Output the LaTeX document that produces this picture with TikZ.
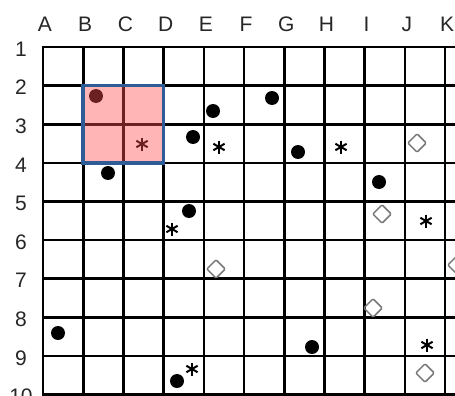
\documentclass[tikz,border=0pt]{standalone}
\usepackage{fontspec}
\setmainfont{Liberation Sans}
\usetikzlibrary{shapes.geometric}
\definecolor{overlaypink}{RGB}{255,80,80}
\definecolor{boxblue}{RGB}{46,92,150}
\definecolor{hollowgray}{RGB}{120,120,120}
\begin{document}
\begin{tikzpicture}[x=1pt,y=-1pt,
  gridline/.style={line width=2.6pt, black, line cap=rect},
  lbl/.style={font=\fontsize{21}{21}\selectfont, inner sep=0pt, anchor=center, text=black!85},
  dotmark/.style={circle, fill=black, minimum size=14pt, inner sep=0pt},
  hollow/.style={diamond, draw=hollowgray, line width=1.5pt, minimum width=19pt, minimum height=19pt, inner sep=0pt, rounded corners=1pt},
  astmark/.style={minimum size=13pt, inner sep=0pt,
    path picture={
      \draw[line width=2pt, black] (path picture bounding box.north) -- (path picture bounding box.south);
      \draw[line width=2pt, black] (path picture bounding box.center) ++(30:6.5pt) -- ++(210:13pt);
      \draw[line width=2pt, black] (path picture bounding box.center) ++(150:6.5pt) -- ++(330:13pt);
    }},
  overlay box/.style={fill=overlaypink, fill opacity=0.42},
  border box/.style={draw=boxblue, line width=3.6pt}
]
\useasboundingbox (0,0) rectangle (455,396);
\clip (0,0) rectangle (455,396);
\fill[white] (0,0) rectangle (455,396);

% grid
\foreach \i in {0,...,10}
  \draw[gridline] ({43+40.2*\i},47) -- ({43+40.2*\i},402);
\foreach \j in {0,...,9}
  \draw[gridline] (43,{47+38.6*\j}) -- (462,{47+38.6*\j});

% column labels
\foreach \c [count=\i from 0] in {A,B,C,D,E,F,G,H,I,J,K}
  \node[lbl] (col\c) at ({45+40.2*\i},24) {\c};
% row labels
\foreach \r [count=\j from 0] in {1,...,10}
  \node[lbl] (row\r) at (21,{49+38.6*\j}) {\r};

% filled markers
\node[dotmark] (d1) at (96,96) {};
\node[dotmark] (d2) at (213,111) {};
\node[dotmark] (d3) at (193,137) {};
\node[dotmark] (d4) at (108,173) {};
\node[dotmark] (d5) at (272,98) {};
\node[dotmark] (d6) at (298,152) {};
\node[dotmark] (d7) at (379,182) {};
\node[dotmark] (d8) at (189,211) {};
\node[dotmark] (d9) at (58,333) {};
\node[dotmark] (d10) at (177,381) {};
\node[dotmark] (d11) at (312,347) {};

% asterisks
\node[astmark] (s1) at (142,144) {};
\node[astmark] (s2) at (219,147) {};
\node[astmark] (s3) at (341,147) {};
\node[astmark] (s4) at (172,229) {};
\node[astmark] (s5) at (192,369) {};
\node[astmark] (s6) at (426,221) {};
\node[astmark] (s7) at (427,345) {};

% hollow diamonds
\node[hollow] (h1) at (417,143) {};
\node[hollow] (h2) at (216,269) {};
\node[hollow] (h3) at (382,214) {};
\node[hollow] (h4) at (457,265) {};
\node[hollow] (h5) at (373,308) {};
\node[hollow] (h6) at (425,373) {};

% highlighted square
\fill[overlay box] (83.2,85.6) rectangle (163.6,162.8);
\draw[border box] (83.2,85.6) rectangle (163.6,162.8);
\end{tikzpicture}
\end{document}
